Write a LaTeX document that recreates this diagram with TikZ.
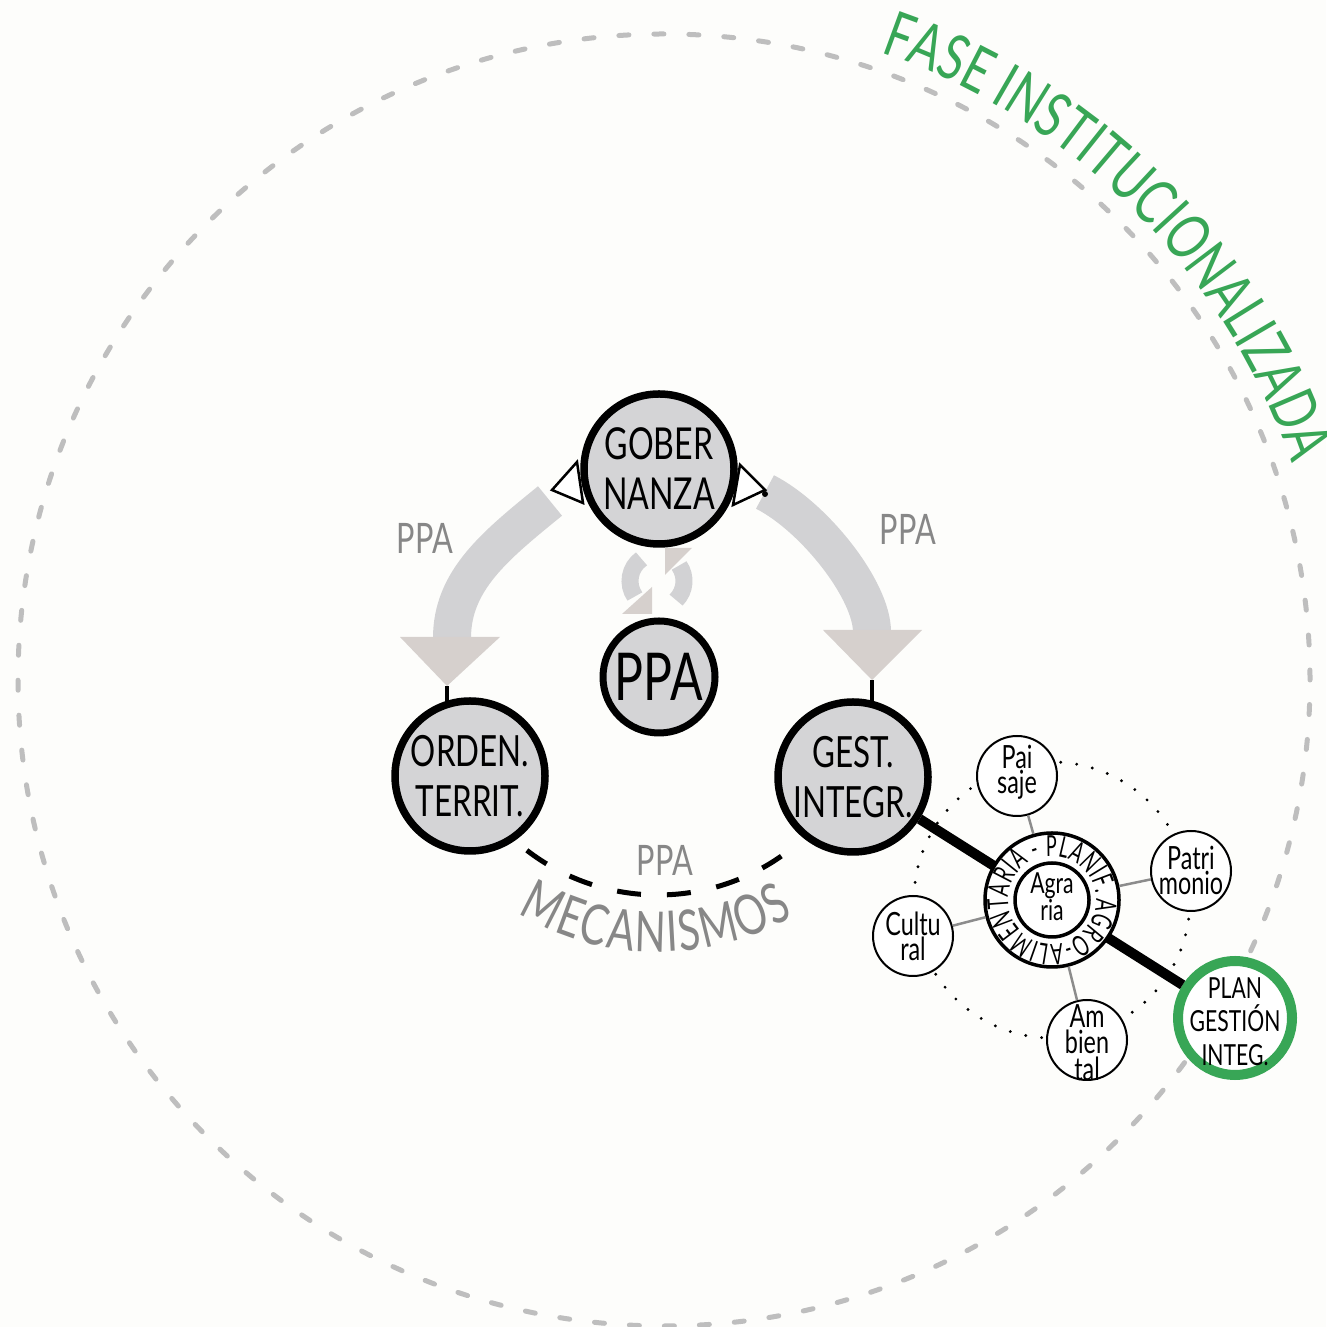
\documentclass[tikz,border=0pt]{standalone}
\usepackage{fontspec}
\setmainfont{Lato}[FakeStretch=0.73]
\newfontfamily\ringfont{Lato}[FakeStretch=0.62]
\usetikzlibrary{decorations.text}
\definecolor{bandgray}{RGB}{210,210,212}
\definecolor{headgray}{RGB}{214,208,205}
\definecolor{nodefill}{RGB}{212,212,214}
\definecolor{labelgray}{RGB}{135,135,135}
\definecolor{dashgray}{RGB}{190,190,190}
\definecolor{linegray}{RGB}{140,140,140}
\definecolor{fasegreen}{RGB}{56,166,86}
\definecolor{bgcol}{RGB}{253,253,251}
\begin{document}
\begin{tikzpicture}[x=1pt,y=1pt,
  bignode/.style={circle, draw=black, line width=7.5pt, fill=nodefill, minimum size=150pt, inner sep=0pt, align=center, font=\fontsize{43}{50}\selectfont},
  ppanode/.style={circle, draw=black, line width=7pt, fill=nodefill, minimum size=112pt, inner sep=0pt, font=\fontsize{66}{66}\selectfont},
  smallc/.style={circle, draw=black, line width=2pt, fill=white, minimum size=80pt, inner sep=0pt},
  smalltext/.style={align=center, inner sep=0pt, font=\fontsize{32}{25}\selectfont},
  graylabel/.style={text=labelgray, inner sep=0pt, font=\fontsize{42}{42}\selectfont},
  ringc/.style={circle, draw=black, line width=3.5pt, fill=white, inner sep=0pt},
  band/.style={bandgray, line width=38pt},
  cyc/.style={bandgray, line width=17pt},
  tick/.style={line width=4pt},
  link/.style={linegray, line width=2.5pt}]
\useasboundingbox (0,0) rectangle (1326,1327);
\fill[bgcol] (0,0) rectangle (1326,1327);

% big dashed circle
\draw[dashgray, line width=5pt, dash pattern=on 10pt off 25pt, line cap=round] (664,647) circle[radius=646];

% FASE INSTITUCIONALIZADA
\path[decorate, decoration={text along path, text color=fasegreen,
  text={|\fontsize{63}{63}\selectfont|FASE INSTITUCIONALIZADA}, text align={fit to path}}]
  (664,647) ++(71:664) arc[start angle=71, end angle=19.5, radius=664];

% gray block arrows
\draw[band] (550,826) .. controls (496,782) and (452,747) .. (452,689);
\draw[band] (765,835) .. controls (814,810) and (872,737) .. (872,695);
\fill[headgray] (400,690) -- (500,690) -- (447,641) -- cycle;
\fill[headgray] (823,697) -- (922,697) -- (872,647) -- cycle;

% triangles at gobernanza
\draw[line width=2.5pt, fill=white] (552,837) -- (577,865) -- (583,824) -- cycle;
\draw[line width=2.5pt, fill=white] (740,862) -- (765,837) -- (733,822) -- cycle;
\fill (765,833) circle[radius=3];

% cycle icon
\draw[cyc] (657,746) ++(125:27) arc[start angle=125, end angle=215, radius=27];
\fill[headgray] (622,713) -- (652,713) -- (652,740) -- cycle;
\draw[cyc] (657,746) ++(-45:27) arc[start angle=-45, end angle=35, radius=27];
\fill[headgray] (665,779) -- (692,779) -- (665,752) -- cycle;

% main nodes
\node[bignode, font=\fontsize{44}{50}\selectfont] (gob) at (659,858) {GOBER\\NANZA};
\node[ppanode] (ppa) at (659,650) {PPA};
\node[bignode] (orden) at (470,551) {ORDEN.\\TERRIT.};
\node[bignode] (gest) at (853,550) {GEST.\\INTEGR.};

% ticks
\coordinate (ltip) at (447,641);
\coordinate (rtip) at (872,647);
\draw[tick] (ltip) -- ++(0,-15);
\draw[tick] (rtip) -- ++(0,-21);

% labels PPA
\node[graylabel] (ppa1) at (425,789) {PPA};
\node[graylabel] (ppa2) at (908,798) {PPA};
\node[graylabel] (ppa3) at (665,467) {PPA};

% dashed arc + MECANISMOS
\draw[line width=5pt, dash pattern=on 24pt off 26pt] (658,647) ++(232.4:215) arc[start angle=232.4, end angle=305, radius=215];
\path[decorate, decoration={text along path, text color=labelgray,
  text={|\fontsize{56}{56}\selectfont|MECANISMOS}, text align={fit to path}}]
  (658,647) ++(239:272) arc[start angle=239, end angle=300, radius=272];

% dotted circle
\draw[line width=3.2pt, dash pattern=on 0pt off 16pt, line cap=round] (1052,427) circle[radius=138];

% plan node and thick line
\node[circle, draw=fasegreen, line width=10pt, fill=white, minimum size=114pt, inner sep=0pt] (plan) at (1235,309) {};
\draw[line width=10pt] (gest) -- (plan);
\node[smalltext, font=\fontsize{29}{33.5}\selectfont] (plant) at (1235,305.5) {PLAN\\GESTIÓN\\INTEG.};

% ring
\node[ringc, minimum size=134pt] (ring) at (1052,427) {};
\path[decorate, decoration={text along path,
  text={|\ringfont\fontsize{29}{29}\selectfont|AGRO-ALIMENTARIA - PLANIF.}, text align={fit to path}}]
  (ring.center) ++(2:44) arc[start angle=2, end angle=-352, radius=44];
\node[ringc, minimum size=74pt] (agr) at (1052,427) {};
\node[smalltext, font=\fontsize{29}{25}\selectfont] (agrt) at (1052,430.5) {Agra\\ria};

% small nodes
\node[smallc] (pai) at (1017,551) {};
\node[smallc] (pat) at (1191,456) {};
\node[smallc] (cul) at (913,391) {};
\node[smallc] (amb) at (1087,287) {};
\draw[link] (pai) -- (ring);
\draw[link] (pat) -- (ring);
\draw[link] (cul) -- (ring);
\draw[link] (amb) -- (ring);
\node[smalltext] (pait) at (1017,555) {Pai\\saje};
\node[smalltext] (patt) at (1191,457) {Patri\\monio};
\node[smalltext] (cult) at (913,390.5) {Cultu\\ral};
\node[smalltext, font=\fontsize{32}{26.5}\selectfont] (ambt) at (1087,284.5) {Am\\bien\\tal};
\end{tikzpicture}
\end{document}
